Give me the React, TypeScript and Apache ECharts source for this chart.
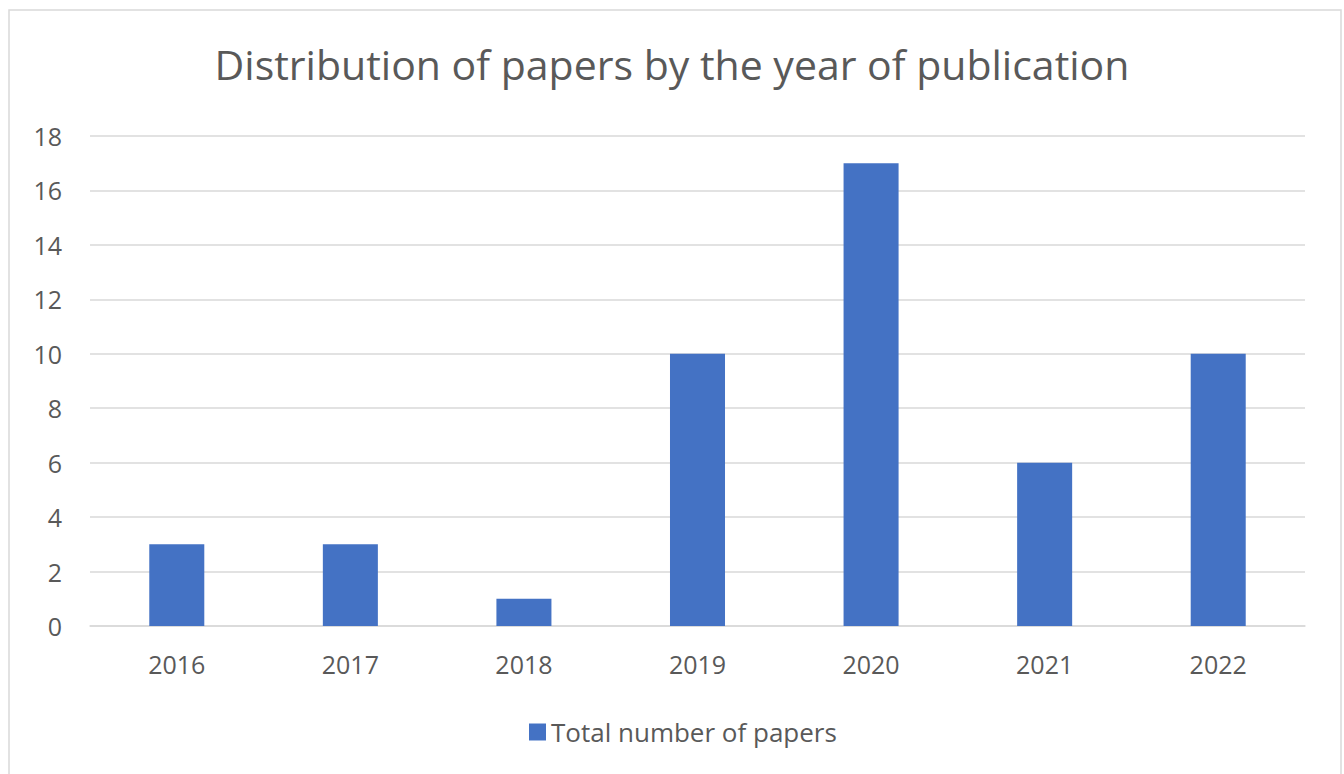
import React, { useEffect, useRef } from "react";
import * as echarts from "echarts";

const years = ["2016", "2017", "2018", "2019", "2020", "2021", "2022"];
const papers = [3, 3, 1, 10, 17, 6, 10];
const titleText = "Distribution of papers by the year of publication";
const seriesName = "Total number of papers";

export default function App() {
  const ref = useRef<HTMLDivElement>(null);
  useEffect(() => {
    if (!ref.current) return;
    const chart = echarts.init(ref.current, undefined, { renderer: "svg" });
    const font = "'Open Sans', 'Noto Sans', sans-serif";
    chart.setOption({
      animation: false,
      backgroundColor: "#ffffff",
      textStyle: { fontFamily: font },
      graphic: [
        {
          type: "rect",
          shape: { x: 9, y: 10, width: 1332, height: 820 },
          style: { fill: "none", stroke: "#d9d9d9", lineWidth: 1.5 },
          silent: true,
        },
      ],
      title: {
        text: titleText,
        left: "center",
        top: 38,
        textStyle: { fontSize: 41, fontWeight: "normal", color: "#595959", fontFamily: font },
      },
      grid: { left: 90, right: 39, top: 136, bottom: 148, containLabel: false },
      legend: {
        data: [seriesName],
        left: 524,
        top: 714,
        icon: "rect",
        itemWidth: 17,
        itemHeight: 17,
        itemGap: 6,
        textStyle: { fontSize: 26, color: "#595959", fontFamily: font },
      },
      xAxis: {
        type: "category",
        data: years,
        axisLine: { lineStyle: { color: "#d9d9d9", width: 1.5 } },
        axisTick: { show: false },
        axisLabel: { fontSize: 25, color: "#595959", margin: 25, fontFamily: font },
      },
      yAxis: {
        type: "value",
        min: 0,
        max: 18,
        interval: 2,
        axisLine: { show: false },
        axisTick: { show: false },
        splitLine: { lineStyle: { color: "#d9d9d9", width: 1.5 } },
        axisLabel: { fontSize: 25, color: "#595959", margin: 28, fontFamily: font },
      },
      series: [
        {
          name: seriesName,
          type: "bar",
          data: papers,
          barWidth: "31.7%",
          itemStyle: { color: "#4472C4" },
        },
      ],
    });
    return () => chart.dispose();
  }, []);
  return (
    <div
      ref={ref}
      style={{ position: "absolute", left: 0, top: 0, width: 1344, height: 774 }}
    />
  );
}
